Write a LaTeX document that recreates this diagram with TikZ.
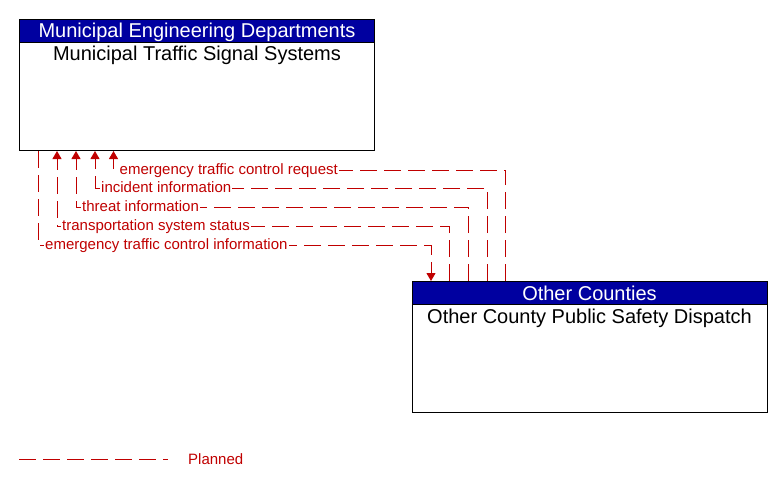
\documentclass[tikz,border=0pt]{standalone}
\usepackage{fontspec}
\setmainfont{Liberation Sans}
\usetikzlibrary{arrows.meta}
\definecolor{hdrblue}{RGB}{0,0,160}
\definecolor{flowred}{RGB}{192,0,0}
\begin{document}
\begin{tikzpicture}[x=1pt,y=-1pt,
 box/.style={draw=black,line width=1pt,fill=white,anchor=north west,inner sep=0pt},
 hdr/.style={draw=black,line width=1pt,fill=hdrblue,anchor=north west,inner sep=0pt},
 hdrtext/.style={text=white,anchor=base,inner sep=0pt,font=\fontsize{20}{22}\selectfont},
 body/.style={anchor=base,font=\fontsize{20}{22}\selectfont,inner sep=0pt},
 flow/.style={draw=flowred,line width=1pt,dash pattern=on 17pt off 7pt},
 lbl/.style={text=flowred,fill=white,inner sep=1pt,anchor=base west,font=\fontsize{15}{17}\selectfont},
 tip/.style={-{Triangle[width=9pt,length=8pt]}}]
\useasboundingbox (0,0) rectangle (783,487);
% top element
\node[box,minimum width=355pt,minimum height=131pt] (mtss) at (19,19) {};
\node[hdr,minimum width=355pt,minimum height=23pt] (mhdr) at (19,19) {};
\node[hdrtext] (mhtx) at (197,37.3) {Municipal Engineering Departments};
\node[body] (mtxt) at (197,60) {Municipal Traffic Signal Systems};
% bottom element
\node[box,minimum width=355pt,minimum height=131pt] (ots) at (412,281) {};
\node[hdr,minimum width=355pt,minimum height=23pt] (ohdr) at (412,281) {};
\node[hdrtext] (ohtx) at (589.5,300) {Other Counties};
\node[body] (otxt) at (589.5,323.3) {Other County Public Safety Dispatch};
% bend points
\coordinate (p1) at (38,245);  \coordinate (q1) at (431,245);
\coordinate (p2) at (57,226);  \coordinate (q2) at (449.5,226);
\coordinate (p3) at (76,207);  \coordinate (q3) at (468.5,207);
\coordinate (p4) at (95,188);  \coordinate (q4) at (487,188);
\coordinate (p5) at (113.5,170); \coordinate (q5) at (505.5,170);
% flows
\draw[flow,tip] (mtss.south -| p1) -- (p1) -- (q1) -- (ots.north -| q1);
\draw[flow,tip] (ots.north -| q2) -- (q2) -- (p2) -- (mtss.south -| p2);
\draw[flow,tip] (ots.north -| q3) -- (q3) -- (p3) -- (mtss.south -| p3);
\draw[flow,tip] (ots.north -| q4) -- (q4) -- (p4) -- (mtss.south -| p4);
\draw[flow,tip] (ots.north -| q5) -- (q5) -- (p5) -- (mtss.south -| p5);
% labels
\node[lbl] (l1) at (44,249.3) {emergency traffic control information};
\node[lbl] (l2) at (61,230.3) {transportation system status};
\node[lbl] (l3) at (81,211.3) {threat information};
\node[lbl] (l4) at (100,192.3) {incident information};
\node[lbl] (l5) at (118.5,174.3) {emergency traffic control request};
% legend
\coordinate (lg1) at (19,459); \coordinate (lg2) at (168,459);
\draw[flow] (lg1) -- (lg2);
\node[lbl,fill=none] (lgt) at (187,464) {Planned};
\end{tikzpicture}
\end{document}
